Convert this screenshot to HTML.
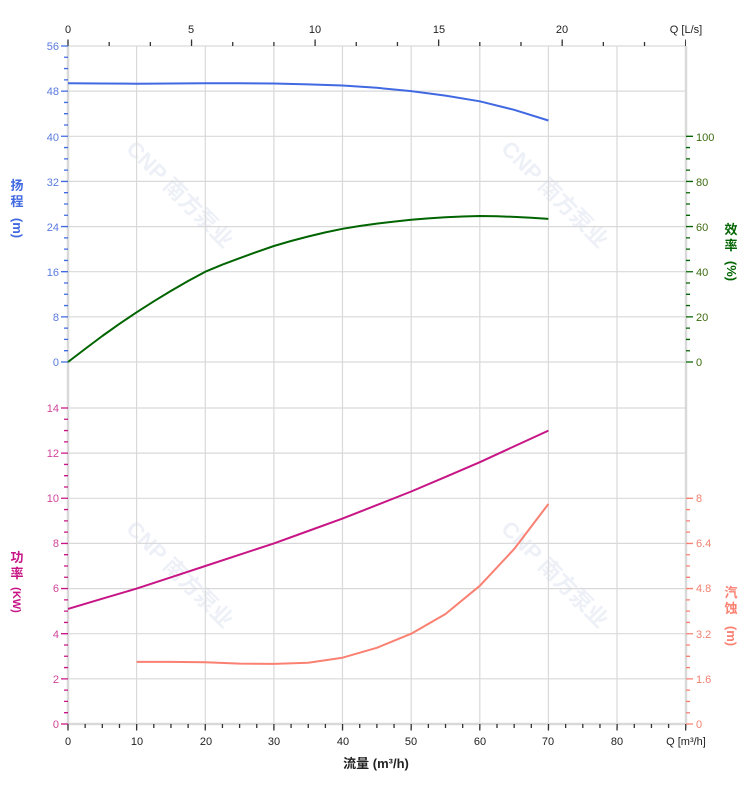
<!DOCTYPE html>
<html><head><meta charset="utf-8"><style>
html,body{margin:0;padding:0;background:#fff;}
svg{display:block;font-family:"Liberation Sans","Noto Sans CJK SC",sans-serif;}
</style></head><body>
<svg width="752" height="797" viewBox="0 0 752 797" xmlns="http://www.w3.org/2000/svg">
<g fill="#edf1f7" font-size="22" font-weight="bold">
<text transform="translate(125,150) rotate(45)">CNP 南方泵业</text>
<text transform="translate(500,150) rotate(45)">CNP 南方泵业</text>
<text transform="translate(125,530) rotate(45)">CNP 南方泵业</text>
<text transform="translate(500,530) rotate(45)">CNP 南方泵业</text>
</g>
<g stroke="#d9d9d9" stroke-width="1.2" fill="none">
<line x1="136.6" x2="136.6" y1="46" y2="724"/><line x1="205.3" x2="205.3" y1="46" y2="724"/>
<line x1="273.9" x2="273.9" y1="46" y2="724"/><line x1="342.5" x2="342.5" y1="46" y2="724"/>
<line x1="411.2" x2="411.2" y1="46" y2="724"/><line x1="479.8" x2="479.8" y1="46" y2="724"/>
<line x1="548.4" x2="548.4" y1="46" y2="724"/><line x1="617" x2="617" y1="46" y2="724"/>
<line x1="68" x2="686" y1="46" y2="46"/><line x1="68" x2="686" y1="91.1" y2="91.1"/>
<line x1="68" x2="686" y1="136.3" y2="136.3"/><line x1="68" x2="686" y1="181.4" y2="181.4"/>
<line x1="68" x2="686" y1="226.6" y2="226.6"/><line x1="68" x2="686" y1="271.7" y2="271.7"/>
<line x1="68" x2="686" y1="316.8" y2="316.8"/><line x1="68" x2="686" y1="362" y2="362"/>
<line x1="68" x2="686" y1="408" y2="408"/><line x1="68" x2="686" y1="453.1" y2="453.1"/>
<line x1="68" x2="686" y1="498.3" y2="498.3"/><line x1="68" x2="686" y1="543.4" y2="543.4"/>
<line x1="68" x2="686" y1="588.6" y2="588.6"/><line x1="68" x2="686" y1="633.7" y2="633.7"/>
<line x1="68" x2="686" y1="678.8" y2="678.8"/>
<line x1="686" x2="686" y1="46" y2="725" stroke-width="2.5"/>
<line x1="67" x2="687" y1="724" y2="724" stroke-width="2.5"/>
<line x1="68" x2="68" y1="46" y2="724" stroke-width="2.5"/>
</g>
<g fill="none">
<line x1="67.35" x2="690" y1="726" y2="726" stroke="#333" stroke-width="4" stroke-dasharray="1.3 15.86"/>
<line x1="67.35" x2="690" y1="729" y2="729" stroke="#333" stroke-width="3" stroke-dasharray="1.3 67.33"/>
<line x1="67.35" x2="686" y1="44" y2="44" stroke="#333" stroke-width="4" stroke-dasharray="1.3 39.88"/>
<line x1="67.35" x2="686" y1="41" y2="41" stroke="#333" stroke-width="3" stroke-dasharray="1.3 122.25"/>
<line x1="66" x2="66" y1="45.35" y2="363" stroke="#4169e1" stroke-width="4" stroke-dasharray="1.3 9.985"/>
<line x1="62.5" x2="62.5" y1="45.35" y2="363" stroke="#4169e1" stroke-width="3" stroke-dasharray="1.3 43.84"/>
<line x1="66" x2="66" y1="407.35" y2="725" stroke="#c71585" stroke-width="4" stroke-dasharray="1.3 9.985"/>
<line x1="62.5" x2="62.5" y1="407.35" y2="725" stroke="#c71585" stroke-width="3" stroke-dasharray="1.3 43.84"/>
<line x1="688" x2="688" y1="362.65" y2="135.5" stroke="#006400" stroke-width="4" stroke-dasharray="1.3 9.985"/>
<line x1="691.5" x2="691.5" y1="362.65" y2="135.5" stroke="#006400" stroke-width="3" stroke-dasharray="1.3 43.84"/>
<line x1="688" x2="688" y1="724.65" y2="497.5" stroke="#fa8072" stroke-width="4" stroke-dasharray="1.3 9.985"/>
<line x1="691.5" x2="691.5" y1="724.65" y2="497.5" stroke="#fa8072" stroke-width="3" stroke-dasharray="1.3 43.84"/>
</g>
<g fill="none" stroke-width="2" stroke-linejoin="round">
<polyline stroke="#4169e1" points="68,83.2 102.3,83.5 136.6,83.7 171,83.5 205.3,83.2 239.6,83.2 273.9,83.5 308.2,84.4 342.5,85.5 376.8,87.8 411.2,91.1 445.5,95.6 479.8,101.3 514.1,109.8 548.4,120.5"/>
<polyline stroke="#006400" points="68,362 85,349 102.3,336 119.5,323.8 136.6,312.3 153.8,301.3 171,290.9 188.1,281 205.3,271.7 222.5,264.6 239.6,258.2 256.8,251.9 273.9,246 291,241 308.2,236.5 325.4,232.4 342.5,228.8 359.6,226 376.8,223.6 394,221.6 411.2,219.8 428.4,218.4 445.5,217.3 462.6,216.5 479.8,216 497,216.2 514.1,216.9 531.3,217.8 548.4,218.9"/>
<polyline stroke="#c71585" points="68,608.9 102.3,598.7 136.6,588.6 171,577.3 205.3,566 239.6,554.7 273.9,543.4 308.2,531 342.5,518.6 376.8,505.1 411.2,491.5 445.5,476.9 479.8,462.2 514.1,446.4 548.4,430.6"/>
<polyline stroke="#fa8072" points="136.6,661.9 171,661.9 205.3,662.2 239.6,663.6 273.9,663.9 308.2,662.8 342.5,657.7 376.8,647.8 411.2,633.7 445.5,614 479.8,585.8 514.1,549.1 548.4,504"/>
</g>
<g font-size="11" fill="#222" text-anchor="middle">
<text x="68" y="33">0</text><text x="191" y="33">5</text><text x="315" y="33">10</text><text x="439" y="33">15</text><text x="562" y="33">20</text>
<text x="686" y="33">Q [L/s]</text>
<text x="68" y="745">0</text><text x="137" y="745">10</text><text x="206" y="745">20</text><text x="274" y="745">30</text><text x="343" y="745">40</text><text x="411" y="745">50</text><text x="480" y="745">60</text><text x="548" y="745">70</text><text x="617" y="745">80</text>
<text x="686" y="745">Q [m³/h]</text>
</g>
<text x="376" y="768" font-size="13" font-weight="bold" fill="#222" text-anchor="middle">流量 (m³/h)</text>
<g font-size="11" fill="#5a7be0" text-anchor="end">
<text x="59" y="50">56</text><text x="59" y="95">48</text><text x="59" y="141">40</text><text x="59" y="186">32</text><text x="59" y="231">24</text><text x="59" y="276">16</text><text x="59" y="321">8</text><text x="59" y="366">0</text>
</g>
<g font-size="11" fill="#d0459a" text-anchor="end">
<text x="59" y="412">14</text><text x="59" y="457">12</text><text x="59" y="502">10</text><text x="59" y="547">8</text><text x="59" y="592">6</text><text x="59" y="638">4</text><text x="59" y="683">2</text><text x="59" y="728">0</text>
</g>
<g font-size="11" fill="#3d6b10">
<text x="696" y="141">100</text><text x="696" y="186">80</text><text x="696" y="231">60</text><text x="696" y="276">40</text><text x="696" y="321">20</text><text x="696" y="366">0</text>
</g>
<g font-size="11" fill="#f08070">
<text x="696" y="502">8</text><text x="696" y="547">6.4</text><text x="696" y="592">4.8</text><text x="696" y="638">3.2</text><text x="696" y="683">1.6</text><text x="696" y="728">0</text>
</g>
<g font-size="13" font-weight="bold" text-anchor="middle">
<g fill="#4169e1"><text x="17" y="190">扬</text><text x="17" y="206">程</text><text transform="translate(13,228) rotate(90)">(m)</text></g>
<g fill="#c71585"><text x="17" y="562">功</text><text x="17" y="578">率</text><text transform="translate(13,600) rotate(90)" font-size="11">(KW)</text></g>
<g fill="#006400"><text x="731" y="234">效</text><text x="731" y="250">率</text><text transform="translate(727,271) rotate(90)">(%)</text></g>
<g fill="#fa8072"><text x="731" y="597">汽</text><text x="731" y="613">蚀</text><text transform="translate(727,636) rotate(90)">(m)</text></g>
</g>
</svg>
</body></html>
